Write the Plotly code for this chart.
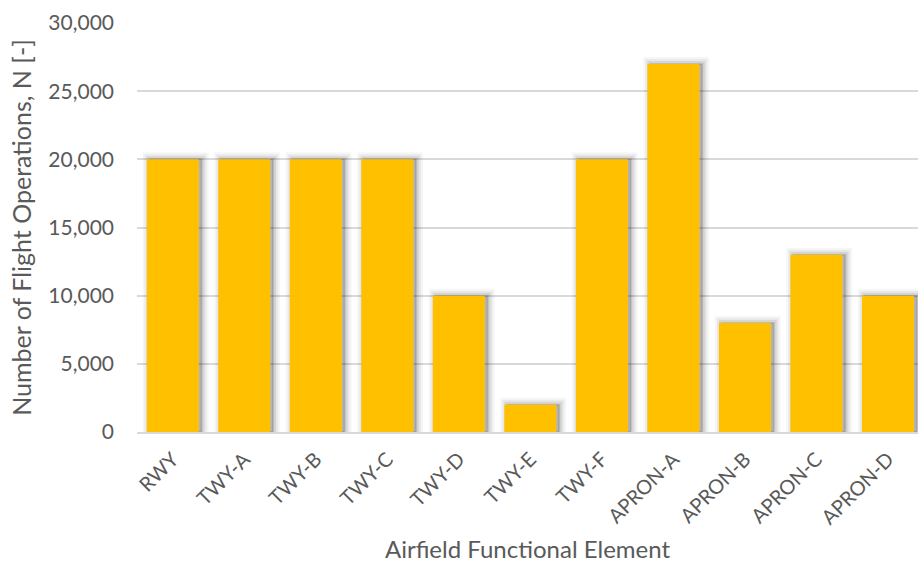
import plotly.graph_objects as go

categories = ["RWY", "TWY-A", "TWY-B", "TWY-C", "TWY-D", "TWY-E", "TWY-F",
              "APRON-A", "APRON-B", "APRON-C", "APRON-D"]
operations = [20000, 20000, 20000, 20000, 10000, 2000, 20000, 27000, 8000, 13000, 10000]

font_family = "Lato, 'Open Sans', sans-serif"
grey = "#595959"

fig = go.Figure()
# soft blurred drop shadow built from stacked translucent strokes
for lw, a in [(14, 0.035), (10, 0.05), (6, 0.08), (2, 0.12)]:
    fig.add_trace(go.Bar(x=categories, y=operations, width=0.727, offset=-0.3635 + 0.04,
                         marker=dict(color="rgba(0,0,0,0.04)",
                                     line=dict(width=lw, color=f"rgba(0,0,0,{a})")),
                         hoverinfo="skip", showlegend=False))
fig.add_trace(go.Bar(x=categories, y=operations, width=0.727, offset=-0.3635,
                     marker=dict(color="#FFC000", line=dict(width=0)),
                     showlegend=False))

fig.update_layout(
    width=918, height=563,
    margin=dict(l=137, r=0, t=23, b=131),
    paper_bgcolor="white", plot_bgcolor="white",
    barmode="overlay",
    font=dict(family=font_family, size=18, color=grey),
    xaxis=dict(
        range=[-0.5, 10.42],
        tickangle=-45,
        tickfont=dict(size=20, color=grey),
        showgrid=False,
        showline=True, linecolor="#d9d9d9", linewidth=1.5,
        ticks="",
        ticklabelstandoff=6,
        title=dict(text="Airfield Functional Element", font=dict(size=24, color=grey), standoff=16),
    ),
    yaxis=dict(
        range=[0, 30000],
        dtick=5000,
        tickformat=",d",
        tickfont=dict(size=21, color=grey),
        showgrid=True, gridcolor="#d9d9d9", gridwidth=1.5,
        zeroline=False,
        ticks="",
        ticklabelstandoff=22,
        title=dict(text="Number of Flight Operations, N [-]", font=dict(size=25, color=grey), standoff=9),
    ),
)

fig.write_html("out.html",
               config={"displayModeBar": False},
               post_script="document.body.style.margin='0';document.body.style.overflow='hidden';")
